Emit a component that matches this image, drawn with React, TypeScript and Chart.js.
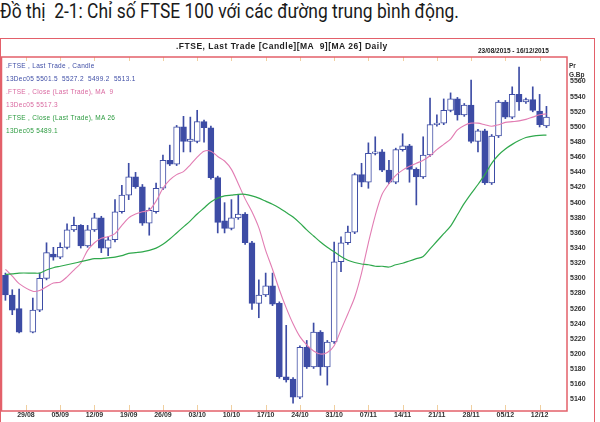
import React, { useEffect, useRef } from "react";
import { Chart, registerables } from "chart.js";
Chart.register(...registerables);

// Trading days (index = slot on the time axis; 29/08 was a holiday -> null values)
const dates = [
  "24/08", "25/08", "26/08",
  "29/08", "30/08", "31/08", "01/09", "02/09",
  "05/09", "06/09", "07/09", "08/09", "09/09",
  "12/09", "13/09", "14/09", "15/09", "16/09",
  "19/09", "20/09", "21/09", "22/09", "23/09",
  "26/09", "27/09", "28/09", "29/09", "30/09",
  "03/10", "04/10", "05/10", "06/10", "07/10",
  "10/10", "11/10", "12/10", "13/10", "14/10",
  "17/10", "18/10", "19/10", "20/10", "21/10",
  "24/10", "25/10", "26/10", "27/10", "28/10",
  "31/10", "01/11", "02/11", "03/11", "04/11",
  "07/11", "08/11", "09/11", "10/11", "11/11",
  "14/11", "15/11", "16/11", "17/11", "18/11",
  "21/11", "22/11", "23/11", "24/11", "25/11",
  "28/11", "29/11", "30/11", "01/12", "02/12",
  "05/12", "06/12", "07/12", "08/12", "09/12",
  "12/12", "13/12",
];

const opens = [
  5304, 5278, 5260, null, 5229, 5258, 5300, 5332, 5328, 5341,
  5364, 5370, 5343, 5364, 5380, 5340, 5351, 5388, 5410, 5434,
  5421, 5373, 5388, 5419, 5456, 5451, 5500, 5481, 5481, 5507,
  5499, 5433, 5376, 5366, 5380, 5385, 5347, 5267, 5278, 5290,
  5267, 5170, 5167, 5143, 5209, 5183, 5229, 5183, 5216, 5322,
  5347, 5361, 5437, 5427, 5465, 5467, 5443, 5427, 5470, 5475,
  5444, 5434, 5463, 5503, 5505, 5522, 5537, 5516, 5529, 5481,
  5495, 5426, 5488, 5533, 5513, 5543, 5533, 5536, 5521, 5501.5,
];
const highs = [
  5307, 5285, 5286, null, 5274, 5307, 5347, 5341, 5347, 5372,
  5381, 5371, 5370, 5386, 5382, 5355, 5404, 5423, 5452, 5440,
  5424, 5393, 5426, 5463, 5476, 5502, 5514, 5513, 5522, 5509,
  5501, 5435, 5400, 5404, 5410, 5387, 5349, 5298, 5307, 5307,
  5269, 5238, 5169, 5211, 5218, 5241, 5231, 5218, 5348, 5355,
  5369, 5439, 5452, 5479, 5487, 5470, 5456, 5472, 5491, 5477,
  5446, 5487, 5538, 5516, 5537, 5545, 5539, 5531, 5562, 5497,
  5497, 5490, 5535, 5535, 5553, 5579, 5538, 5553, 5543, 5527.2,
];
const lows = [
  5271, 5252, 5228, null, 5228, 5256, 5298, 5324, 5326, 5339,
  5362, 5340, 5341, 5362, 5334, 5330, 5348, 5386, 5404, 5419,
  5370, 5357, 5386, 5417, 5449, 5449, 5467, 5467, 5479, 5480,
  5431, 5360, 5360, 5364, 5378, 5345, 5259, 5248, 5276, 5264,
  5168, 5163, 5135, 5141, 5181, 5181, 5172, 5159, 5214, 5309,
  5345, 5359, 5421, 5419, 5463, 5441, 5425, 5425, 5468, 5427,
  5397, 5432, 5461, 5501, 5503, 5520, 5509, 5514, 5479, 5467,
  5424, 5424, 5486, 5511, 5511, 5522, 5531, 5520, 5500, 5499.2,
];
const closes = [
  5278, 5258, 5229, null, 5258, 5300, 5334, 5328, 5341, 5364,
  5370, 5343, 5364, 5380, 5340, 5351, 5388, 5410, 5434, 5421,
  5373, 5390, 5419, 5456, 5451, 5500, 5481, 5484, 5507, 5499,
  5433, 5374, 5366, 5380, 5385, 5347, 5267, 5278, 5290, 5266,
  5170, 5166, 5143, 5209, 5183, 5229, 5183, 5216, 5322, 5347,
  5361, 5437, 5427, 5465, 5467, 5443, 5427, 5470, 5475, 5444,
  5434, 5463, 5503, 5505, 5522, 5537, 5516, 5529, 5481, 5495,
  5426, 5488, 5533, 5513, 5543, 5533, 5536, 5522, 5503, 5513.1,
];

const ma9 = [
  5312, 5303, 5293, null, 5283, 5284, 5289, 5294, 5295, 5302,
  5311, 5320, 5337, 5347, 5353, 5355, 5359, 5370, 5380, 5385,
  5388, 5390, 5402, 5419, 5430, 5437, 5441, 5450, 5460, 5468,
  5468, 5461, 5455, 5444, 5425, 5405, 5388, 5367, 5337, 5312,
  5285, 5261, 5240, 5223, 5212, 5204, 5200, 5202, 5211, 5232,
  5253, 5275, 5307, 5347, 5383, 5411, 5425, 5436, 5443, 5448,
  5452, 5456, 5462, 5470, 5477, 5484, 5496, 5502, 5505, 5505,
  5503, 5501, 5503, 5506, 5507, 5508, 5510, 5513, 5516, 5517.3,
];
const ma26 = [
  5305, 5306, 5307, null, 5307, 5307, 5311, 5314, 5316, 5318,
  5320, 5322, 5324, 5326, 5326, 5327, 5328, 5330, 5333, 5334,
  5335, 5337, 5340, 5345, 5352, 5360, 5368, 5376, 5385, 5393,
  5401, 5406, 5409, 5410, 5411, 5411, 5409, 5406, 5402, 5398,
  5393, 5387, 5381, 5373, 5364, 5356, 5348, 5341, 5335, 5329,
  5324, 5321, 5319, 5318, 5316, 5316, 5315, 5318, 5320, 5323,
  5326, 5329, 5339, 5349, 5359, 5369, 5384, 5399, 5412, 5424,
  5437, 5452, 5463, 5471, 5477, 5482, 5486, 5488, 5489, 5489.1,
];

const xTickLabels = [
  "29/08", "05/09", "12/09", "19/09", "26/09", "03/10", "10/10", "17/10",
  "24/10", "31/10", "07/11", "14/11", "21/11", "28/11", "05/12", "12/12",
];
const yTickValues = [
  5140, 5160, 5180, 5200, 5220, 5240, 5260, 5280, 5300, 5320, 5340,
  5360, 5380, 5400, 5420, 5440, 5460, 5480, 5500, 5520, 5540, 5560,
];

const legendLines = [
  { text: ".FTSE , Last Trade , Candle", color: "#3d4ca5" },
  { text: "13Dec05 5501.5  5527.2  5499.2  5513.1", color: "#3d4ca5" },
  { text: ".FTSE , Close (Last Trade), MA  9", color: "#d9679f" },
  { text: "13Dec05 5517.3", color: "#d9679f" },
  { text: ".FTSE , Close (Last Trade), MA 26", color: "#2a9a3e" },
  { text: "13Dec05 5489.1", color: "#2a9a3e" },
];

const BLUE = "#3d4ca5";
const RED = "#e3606a";
const PINK = "#e27db3";
const GREEN = "#2fa84c";

const framePlugin = {
  id: "frame",
  afterDraw(chart: any) {
    const { ctx, chartArea } = chart;
    const xs = chart.scales.x;
    ctx.save();
    ctx.strokeStyle = "#f0cfa0";
    ctx.lineWidth = 1;
    xTickLabels.forEach((lab) => {
      const i = dates.indexOf(lab);
      const px = Math.round(xs.getPixelForValue(i)) + 0.5;
      ctx.beginPath();
      ctx.moveTo(px, chartArea.bottom - 6);
      ctx.lineTo(px, chartArea.bottom);
      ctx.moveTo(px, chartArea.top);
      ctx.lineTo(px, chartArea.top + 4);
      ctx.stroke();
    });
    ctx.strokeStyle = RED;
    ctx.lineWidth = 1.5;
    ctx.strokeRect(
      chartArea.left - 0.5,
      chartArea.top,
      chartArea.right - chartArea.left + 0.5,
      chartArea.bottom - chartArea.top
    );
    ctx.restore();
  },
};

export default function App() {
  const ref = useRef<HTMLCanvasElement | null>(null);

  useEffect(() => {
    if (!ref.current) return;
    const valid = dates.map((_, i) => i).filter((i) => opens[i] != null);
    const wickData = valid.map((i) => ({ x: i, y: [lows[i], highs[i]] }));
    const bodyData = valid.map((i) => ({ x: i, y: [opens[i], closes[i]] }));
    const bodyFill = valid.map((i) =>
      (closes[i] as number) >= (opens[i] as number) ? "#ffffff" : BLUE
    );
    const line = (arr: (number | null)[]) =>
      arr.map((v, i) => ({ x: i, y: v })).filter((p) => p.y != null);
    const xTickIdx = xTickLabels.map((l) => dates.indexOf(l));

    const chart = new Chart(ref.current, {
      type: "bar",
      data: {
        datasets: [
          {
            type: "line",
            data: line(ma26) as any,
            borderColor: GREEN,
            borderWidth: 1.2,
            pointRadius: 0,
            tension: 0.3,
            order: 0,
          } as any,
          {
            type: "line",
            data: line(ma9) as any,
            borderColor: PINK,
            borderWidth: 1.1,
            pointRadius: 0,
            tension: 0.3,
            order: 0,
          } as any,
          {
            type: "bar",
            data: bodyData as any,
            backgroundColor: bodyFill,
            borderColor: BLUE,
            borderWidth: 1,
            borderSkipped: false,
            barThickness: 6,
            grouped: false,
            order: 1,
          } as any,
          {
            type: "bar",
            data: wickData as any,
            backgroundColor: BLUE,
            borderWidth: 0,
            barThickness: 1,
            grouped: false,
            order: 2,
          } as any,
        ],
      },
      options: {
        animation: false,
        responsive: false,
        maintainAspectRatio: false,
        layout: { padding: { left: 2, top: 57, right: 0, bottom: 0 } },
        plugins: { legend: { display: false }, tooltip: { enabled: false } },
        scales: {
          x: {
            type: "linear",
            offset: false,
            min: -0.5,
            max: 82,
            grid: { display: false, drawTicks: false, offset: false },
            border: { display: false },
            ticks: {
              autoSkip: false,
              maxRotation: 0,
              padding: 1,
              color: "#333",
              font: { family: "Liberation Sans", size: 7, weight: "bold", lineHeight: 1 },
              callback: (v: any) => dates[v as number] ?? "",
            },
            afterBuildTicks: (s: any) => {
              s.ticks = xTickIdx.map((v) => ({ value: v }));
            },
            afterFit: (s: any) => {
              s.height = 11;
            },
          },
          y: {
            type: "linear",
            position: "right",
            min: 5124.8,
            max: 5592.4,
            grid: { display: false, drawTicks: false },
            border: { display: false },
            ticks: {
              padding: 3,
              color: "#333",
              font: { family: "Liberation Sans", size: 7, weight: "bold" },
              callback: (v: any) => String(v),
            },
            afterBuildTicks: (s: any) => {
              s.ticks = yTickValues.map((v) => ({ value: v }));
            },
            afterFit: (s: any) => {
              s.width = 33;
            },
          },
        },
      } as any,
      plugins: [framePlugin],
    });
    return () => chart.destroy();
  }, []);

  const small: React.CSSProperties = {
    position: "absolute",
    fontFamily: "Liberation Sans, Arial, sans-serif",
    whiteSpace: "pre",
    lineHeight: 1,
  };

  return (
    <div
      style={{
        position: "fixed",
        left: 0,
        top: 0,
        width: 600,
        height: 422,
        background: "#fff",
        overflow: "hidden",
      }}
    >
      <div
        style={{
          position: "absolute",
          left: 0,
          top: 0,
          fontFamily: "Roboto, sans-serif",
          fontSize: 20.5,
          color: "#1a1a1a",
          whiteSpace: "pre",
          lineHeight: 1.1,
          transform: "scaleX(0.85)",
          transformOrigin: "0 0",
        }}
      >
        Đồ thị  2-1: Chỉ số FTSE 100 với các đường trung bình động.
      </div>
      <div
        style={{
          position: "absolute",
          left: 0,
          top: 38,
          width: 595,
          height: 420,
          border: `1.5px solid ${RED}`,
          boxSizing: "border-box",
        }}
      />
      <canvas
        ref={ref}
        width={600}
        height={422}
        style={{ position: "absolute", left: 0, top: 0, width: 600, height: 422 }}
      />
      <div
        style={{
          ...small,
          left: 176,
          top: 42,
          fontSize: 8.5,
          fontWeight: "bold",
          color: "#222",
          letterSpacing: 0.5,
        }}
      >
        .FTSE, Last Trade [Candle][MA  9][MA 26] Daily
      </div>
      <div
        style={{
          ...small,
          left: 478,
          top: 48,
          fontSize: 6.5,
          fontWeight: "bold",
          color: "#222",
        }}
      >
        23/08/2015 - 16/12/2015
      </div>
      <div
        style={{
          ...small,
          left: 569,
          top: 61,
          fontSize: 6.5,
          fontWeight: "bold",
          color: "#333",
          lineHeight: "9px",
        }}
      >
        {"Pr\nG.Bp"}
      </div>
      {legendLines.map((l, k) => (
        <div
          key={k}
          style={{
            ...small,
            left: 6,
            top: 63 + k * 13,
            fontSize: 6.5,
            color: l.color,
            letterSpacing: 0.3,
          }}
        >
          {l.text}
        </div>
      ))}
    </div>
  );
}
